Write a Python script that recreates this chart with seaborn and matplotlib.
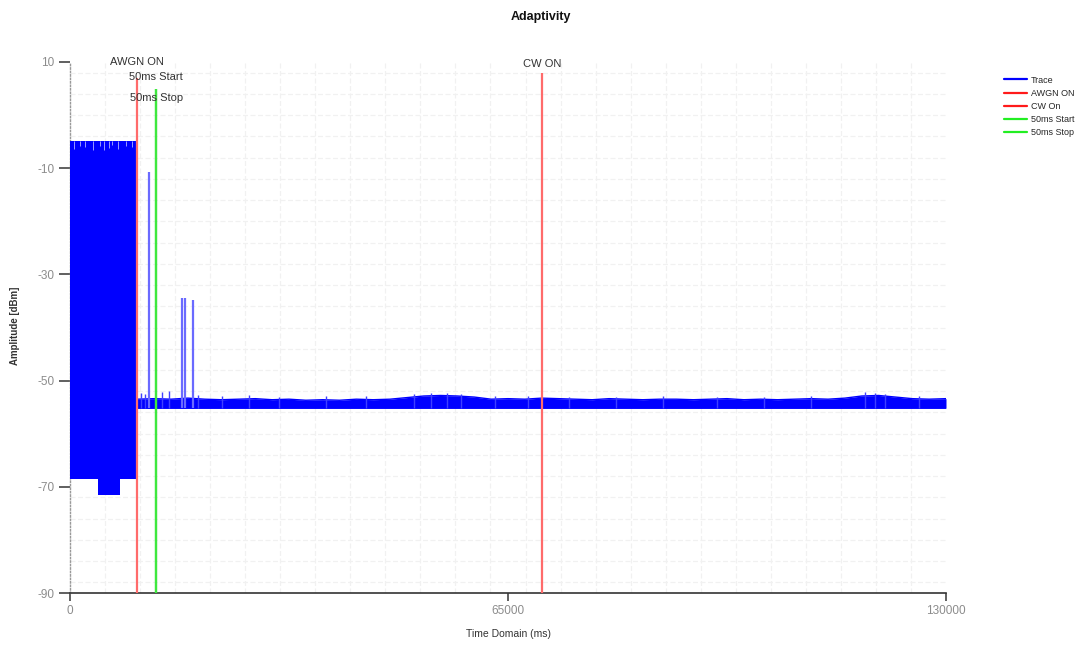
import numpy as np
import pandas as pd
import matplotlib
matplotlib.use("Agg")
import matplotlib.pyplot as plt
from matplotlib.ticker import MultipleLocator, FixedLocator
from matplotlib.lines import Line2D
import seaborn as sns

# ---------------- data ----------------
# AWGN burst block (trace envelope before AWGN ON)
awgn_x = [0, 4150, 4150, 7450, 7450, 10000]
awgn_high = [-4.8, -4.8, -4.8, -4.8, -4.8, -4.8]
awgn_low = [-68.6, -68.6, -71.6, -71.6, -68.6, -68.6]
# small notches at top of the AWGN block
awgn_notch_x = [600, 1500, 2300, 3400, 4400, 5000, 5800, 6300, 7100, 8300, 9200]
awgn_notch_y = [-6.3, -5.8, -6.0, -6.5, -5.9, -6.6, -6.2, -5.7, -6.4, -5.9, -6.1]

# isolated high spikes after AWGN ON
spike_x = [11750, 16550, 17050, 18200]
spike_top = [-10.7, -34.5, -34.5, -34.8]

# noise floor band after AWGN ON
noise_floor = -55.2
noise_x = [10000, 12500, 15000, 17500, 20000, 22500, 25000, 27500, 30000, 32500,
           35000, 37500, 40000, 42500, 45000, 47500, 50000, 52500, 55000, 57500,
           60000, 62500, 65000, 67500, 70000, 72500, 75000, 77500, 80000, 82500,
           85000, 87500, 90000, 92500, 95000, 97500, 100000, 102500, 105000, 107500,
           110000, 112500, 115000, 117500, 120000, 122500, 125000, 127500, 130000]
noise_top = [-53.5, -53.4, -53.5, -53.3, -53.5, -53.6, -53.5, -53.4, -53.6, -53.5,
             -53.7, -53.6, -53.7, -53.5, -53.6, -53.5, -53.2, -52.9, -52.8, -52.9,
             -53.1, -53.5, -53.4, -53.5, -53.3, -53.4, -53.5, -53.6, -53.4, -53.5,
             -53.6, -53.5, -53.5, -53.6, -53.5, -53.4, -53.6, -53.5, -53.6, -53.5,
             -53.4, -53.5, -53.3, -52.9, -52.8, -53.1, -53.4, -53.5, -53.4]
noise_spike_x = [10600, 11200, 13700, 14750, 19000, 22500, 26500, 31000, 38000, 44000,
                 51000, 53500, 56000, 58000, 63000, 68000, 74000, 81000, 88000, 96000,
                 103000, 110000, 118000, 119500, 121000, 126000]
noise_spike_top = [-52.4, -52.6, -52.1, -51.9, -52.8, -52.9, -52.7, -53.0, -52.9, -52.9,
                   -52.6, -52.4, -52.3, -52.5, -52.9, -52.9, -53.0, -53.0, -52.9, -53.0,
                   -53.0, -52.9, -52.2, -52.4, -52.5, -52.9]

# markers
marker_names = ["AWGN ON", "CW On", "50ms Start", "50ms Stop"]
marker_x = [10000, 70000, 12800, 12800]
marker_top = [7.0, 8.0, 5.0, 5.0]
marker_colors = ["#ff6b6b", "#ff6b6b", "#3ee83e", "#3ee83e"]
legend_colors = ["#ff1a1a", "#ff1a1a", "#22ee22", "#22ee22"]
label_texts = ["AWGN ON", "CW ON", "50ms Start", "50ms Stop"]
label_y = [10.0, 9.6, 7.2, 3.2]

x_ticks = [0, 65000, 130000]
y_ticks = [10, -10, -30, -50, -70, -90]

# ---------------- figure ----------------
sns.set_theme(style="white")
plt.rcParams["font.family"] = ["Liberation Sans", "DejaVu Sans"]

fig = plt.figure(figsize=(10.81, 6.46), dpi=100)
ax = fig.add_axes([70 / 1081, 1 - 593 / 646, (946 - 70) / 1081, (593 - 62) / 646])

blue = "#0000ff"

# AWGN block
ax.fill_between(awgn_x, awgn_low, awgn_high, color=blue, lw=0, zorder=3)
ax.vlines(awgn_notch_x, awgn_notch_y, -4.8, color="#9a9aff", lw=0.7, zorder=3.5)

# noise band
noise_df = pd.DataFrame({"x": noise_x, "y": noise_top})
ax.fill_between(noise_x, noise_floor, noise_top, color=blue, lw=0, zorder=3)
sns.lineplot(data=noise_df, x="x", y="y", ax=ax, color=blue, lw=1.0, zorder=3)
ax.hlines(noise_floor, 10000, 130000, color=blue, lw=1.2, zorder=3)
ax.vlines(noise_spike_x, noise_floor, noise_spike_top, color="#4040ff", lw=1.0, zorder=3)

# high spikes
ax.vlines(spike_x, noise_floor, spike_top, color="#6a6aff", lw=1.6, zorder=3)

# marker lines
for x, top, c in zip(marker_x, marker_top, marker_colors):
    ax.vlines(x, -90, top, color=c, lw=1.6, zorder=4)

# marker labels
for x, y, t in zip([10000, 70000, 12800, 12800], label_y, label_texts):
    ax.text(x, y, t, ha="center", va="center", fontsize=8, color="#333333",
            zorder=5, clip_on=False)

# legend
handles = [Line2D([], [], color=blue, lw=1.6)] + \
          [Line2D([], [], color=c, lw=1.6) for c in legend_colors]
names = ["Trace"] + marker_names
fig.legend(handles, names, loc="upper left", bbox_to_anchor=(1000 / 1081, 1 - 72 / 646),
           frameon=False, fontsize=6.5, handlelength=2.6, handletextpad=0.4,
           labelspacing=0.45, borderaxespad=0)

# axes limits and ticks
ax.set_xlim(0, 130000)
ax.set_ylim(-90, 10)
ax.xaxis.set_major_locator(FixedLocator(x_ticks))
ax.yaxis.set_major_locator(FixedLocator(y_ticks))
ax.xaxis.set_minor_locator(MultipleLocator(5200))
ax.yaxis.set_minor_locator(MultipleLocator(4))
ax.set_xticklabels([str(v) for v in x_ticks])
ax.set_yticklabels([str(v) for v in y_ticks])
ax.grid(which="minor", color="#f1f1f1", lw=0.9, ls=(0, (4, 2)), zorder=0)
ax.grid(which="major", visible=False)
ax.set_axisbelow(True)

ax.tick_params(axis="both", which="minor", length=0)
ax.tick_params(axis="y", which="major", length=8, width=1.2, color="#444444",
               labelsize=8.5, labelcolor="#8c8c8c", pad=3, left=True)
ax.tick_params(axis="x", which="major", length=6, width=1.2, color="#444444",
               labelsize=8.5, labelcolor="#8c8c8c", pad=3, bottom=True, direction="out")

for s in ["top", "right"]:
    ax.spines[s].set_visible(False)
ax.spines["bottom"].set_color("#333333")
ax.spines["bottom"].set_linewidth(1.2)
ax.spines["left"].set_color("#999999")
ax.spines["left"].set_linestyle((0, (1, 1.5)))
ax.spines["left"].set_linewidth(1.0)

ax.set_xlabel("Time Domain (ms)", fontsize=7.5, color="#333333")
ax.xaxis.set_label_coords((508 - 70) / 876, (593 - 634) / 531)
ax.xaxis.label.set_va("center")
ax.set_ylabel("Amplitude [dBm]", fontsize=7, fontweight="bold", color="#333333")
ax.yaxis.set_label_coords((15 - 70) / 876, (593 - 326) / 531)
ax.yaxis.label.set_va("center")

fig.suptitle("Adaptivity", x=0.5, y=1 - 17 / 646, va="center", fontsize=9,
             fontweight="bold", color="#111111")

fig.savefig("out.png", dpi=100)
